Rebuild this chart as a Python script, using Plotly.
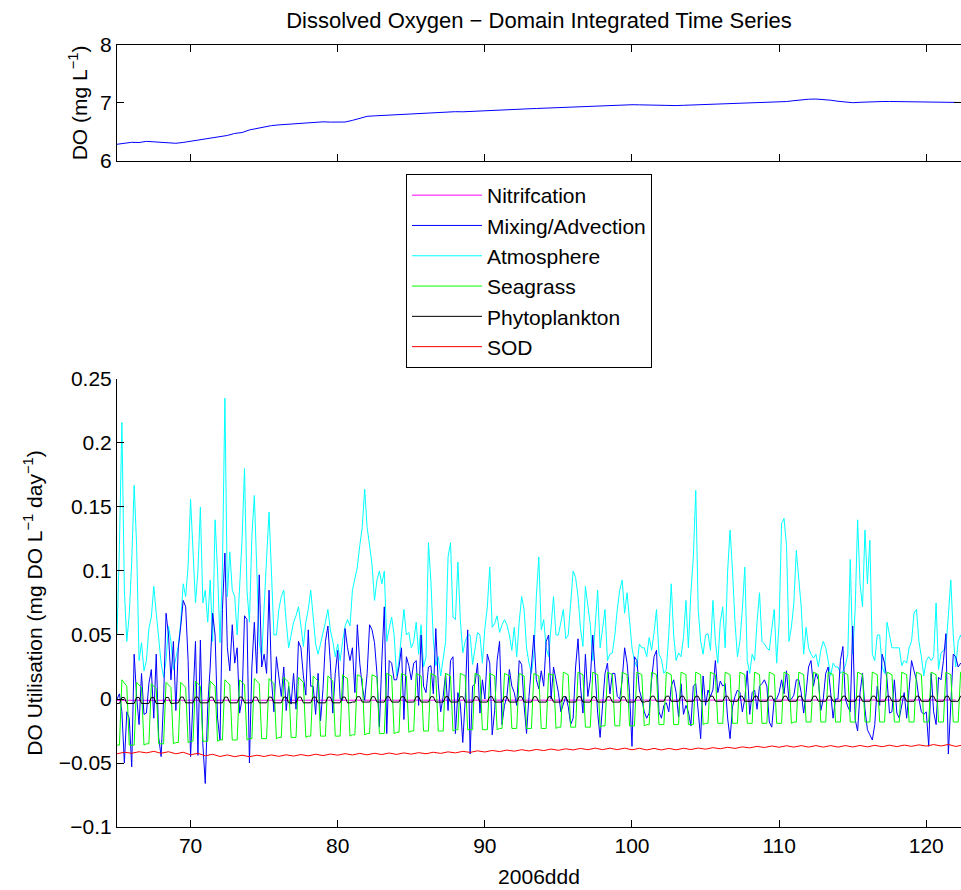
import numpy as np
import plotly.graph_objects as go

START_DAY = 65          # first day-of-year in the record
SAMPLES_PER_DAY = 6     # 4-hourly model output for the flux terms

# ---- Domain integrated DO (mg/L), two samples per day (00h, 12h) ----
do_pairs = [
    [6.288, 6.300], [6.322, 6.318], [6.338, 6.330], [6.322, 6.315], [6.305, 6.320],
    [6.340, 6.355], [6.378, 6.392], [6.425, 6.440], [6.475, 6.490], [6.535, 6.560],
    [6.598, 6.610], [6.622, 6.630], [6.640, 6.645], [6.652, 6.668], [6.675, 6.670],
    [6.665, 6.672], [6.700, 6.740], [6.770, 6.778], [6.785, 6.790], [6.795, 6.800],
    [6.810, 6.815], [6.825, 6.832], [6.840, 6.845], [6.850, 6.848], [6.855, 6.860],
    [6.865, 6.872], [6.880, 6.888], [6.895, 6.898], [6.900, 6.905], [6.910, 6.918],
    [6.925, 6.932], [6.940, 6.943], [6.945, 6.950], [6.955, 6.958], [6.960, 6.966],
    [6.970, 6.968], [6.965, 6.960], [6.955, 6.953], [6.955, 6.960], [6.965, 6.968],
    [6.970, 6.972], [6.975, 6.980], [6.985, 6.990], [6.995, 7.000], [7.005, 7.010],
    [7.015, 7.025], [7.040, 7.055], [7.065, 7.068], [7.060, 7.048], [7.030, 7.015],
    [7.005, 7.012], [7.020, 7.024], [7.025, 7.026], [7.025, 7.022], [7.020, 7.021],
    [7.020, 7.016], [7.010, 7.012], [7.010, 7.008],
]

# ---- Atmosphere (cyan), one row per day, 4-hourly ----
atmosphere_rows = [
    [0.050, 0.120, 0.216, 0.085, 0.045, 0.066],
    [0.107, 0.167, 0.120, 0.030, 0.044, 0.022],
    [0.030, 0.055, 0.064, 0.088, 0.067, 0.050],
    [0.028, 0.017, 0.030, 0.057, 0.045, 0.023],
    [0.033, 0.041, 0.060, 0.090, 0.080, 0.104],
    [0.156, 0.110, 0.075, 0.100, 0.150, 0.075],
    [0.085, 0.060, 0.093, 0.045, 0.140, 0.100],
    [0.044, 0.103, 0.235, 0.080, 0.115, 0.085],
    [0.080, 0.050, 0.090, 0.125, 0.180, 0.085],
    [0.060, 0.127, 0.159, 0.093, 0.044, 0.033],
    [0.075, 0.110, 0.146, 0.090, 0.050, 0.050],
    [0.070, 0.080, 0.085, 0.060, 0.040, 0.050],
    [0.060, 0.065, 0.072, 0.057, 0.041, 0.060],
    [0.070, 0.085, 0.062, 0.043, 0.035, 0.043],
    [0.050, 0.060, 0.070, 0.054, 0.045, 0.033],
    [0.043, 0.030, 0.045, 0.057, 0.062, 0.057],
    [0.085, 0.095, 0.103, 0.120, 0.134, 0.164],
    [0.134, 0.120, 0.105, 0.077, 0.093, 0.100],
    [0.090, 0.100, 0.045, 0.055, 0.064, 0.050],
    [0.018, 0.030, 0.050, 0.070, 0.050, 0.052],
    [0.040, 0.045, 0.060, 0.035, 0.058, 0.025],
    [0.033, 0.122, 0.092, 0.046, 0.026, 0.033],
    [0.018, 0.033, 0.045, 0.111, 0.122, 0.064],
    [0.062, 0.107, 0.062, 0.036, 0.045, 0.050],
    [0.050, 0.027, 0.040, 0.052, 0.050, 0.028],
    [0.055, 0.072, 0.103, 0.056, 0.059, 0.065],
    [0.052, 0.058, 0.062, 0.058, 0.050, 0.038],
    [0.056, 0.033, 0.060, 0.080, 0.070, 0.040],
    [0.028, 0.020, 0.035, 0.080, 0.111, 0.054],
    [0.062, 0.040, 0.033, 0.060, 0.080, 0.050],
    [0.050, 0.060, 0.070, 0.047, 0.050, 0.075],
    [0.100, 0.095, 0.080, 0.055, 0.041, 0.088],
    [0.075, 0.058, 0.030, 0.060, 0.085, 0.040],
    [0.055, 0.070, 0.030, 0.035, 0.036, 0.050],
    [0.070, 0.085, 0.093, 0.067, 0.083, 0.060],
    [0.040, 0.030, 0.025, 0.043, 0.040, 0.040],
    [0.033, 0.048, 0.038, 0.052, 0.070, 0.035],
    [0.031, 0.020, 0.023, 0.050, 0.090, 0.050],
    [0.030, 0.036, 0.033, 0.048, 0.077, 0.040],
    [0.083, 0.110, 0.163, 0.070, 0.045, 0.035],
    [0.050, 0.051, 0.038, 0.077, 0.045, 0.028],
    [0.060, 0.072, 0.040, 0.100, 0.132, 0.100],
    [0.060, 0.033, 0.045, 0.070, 0.103, 0.030],
    [0.020, 0.035, 0.030, 0.060, 0.083, 0.045],
    [0.043, 0.040, 0.038, 0.055, 0.070, 0.028],
    [0.060, 0.137, 0.141, 0.120, 0.045, 0.056],
    [0.075, 0.116, 0.095, 0.072, 0.035, 0.056],
    [0.040, 0.035, 0.032, 0.035, 0.025, 0.038],
    [0.045, 0.040, 0.030, 0.018, 0.028, 0.025],
    [0.025, 0.020, 0.022, 0.026, 0.035, 0.109],
    [0.035, 0.070, 0.140, 0.090, 0.072, 0.132],
    [0.090, 0.124, 0.035, 0.030, 0.050, 0.050],
    [0.025, 0.020, 0.060, 0.050, 0.040, 0.040],
    [0.040, 0.040, 0.026, 0.030, 0.028, 0.040],
    [0.045, 0.067, 0.070, 0.045, 0.033, 0.018],
    [0.030, 0.033, 0.030, 0.033, 0.075, 0.023],
    [0.036, 0.038, 0.040, 0.065, 0.093, 0.050],
    [0.025, 0.045, 0.050, 0.045],
]

# ---- Mixing / Advection (blue) ----
mixing_rows = [
    [0.000, 0.004, -0.010, -0.050, -0.010, -0.015],
    [-0.053, 0.035, 0.002, -0.020, 0.020, -0.012],
    [-0.011, 0.012, 0.023, -0.015, 0.035, -0.030],
    [-0.045, 0.000, 0.067, 0.050, 0.015, 0.045],
    [-0.009, 0.040, 0.057, 0.077, 0.072, 0.030],
    [-0.045, -0.006, 0.045, -0.044, 0.046, -0.035],
    [-0.066, -0.005, 0.025, 0.067, 0.050, -0.015],
    [-0.032, 0.070, 0.114, 0.040, 0.022, 0.058],
    [0.028, 0.040, -0.011, 0.000, 0.065, 0.062],
    [-0.050, 0.025, 0.060, 0.020, 0.097, 0.025],
    [0.035, 0.020, 0.085, 0.015, -0.010, 0.033],
    [0.015, 0.002, 0.025, -0.009, 0.010, -0.004],
    [0.020, -0.008, 0.045, 0.040, 0.018, 0.003],
    [0.054, 0.010, 0.010, -0.012, 0.020, -0.017],
    [0.008, 0.045, 0.057, 0.028, -0.011, 0.020],
    [0.038, 0.000, -0.001, 0.055, 0.040, 0.030],
    [0.040, 0.005, 0.058, 0.028, 0.010, -0.001],
    [0.020, 0.058, 0.054, 0.044, 0.020, -0.022],
    [0.030, 0.072, -0.027, 0.030, 0.028, 0.015],
    [0.015, 0.025, 0.040, -0.016, 0.033, 0.026],
    [0.015, 0.028, 0.030, -0.005, 0.050, 0.010],
    [0.005, 0.025, 0.026, 0.004, 0.055, 0.012],
    [-0.010, 0.002, 0.020, -0.009, 0.030, 0.033],
    [-0.027, 0.005, -0.004, -0.034, 0.000, 0.054],
    [-0.043, 0.010, 0.012, 0.028, -0.011, 0.015],
    [0.000, 0.035, 0.028, -0.028, -0.009, 0.030],
    [0.045, -0.020, -0.005, 0.002, 0.023, 0.010],
    [0.005, -0.005, 0.030, 0.027, -0.005, -0.027],
    [0.002, 0.023, 0.050, 0.015, 0.008, 0.022],
    [0.010, 0.045, 0.050, 0.000, 0.025, 0.015],
    [0.005, -0.010, -0.003, 0.002, -0.006, -0.020],
    [-0.015, 0.025, 0.047, 0.010, -0.011, 0.035],
    [0.002, 0.015, 0.050, 0.020, -0.011, -0.030],
    [-0.008, 0.020, 0.028, 0.004, 0.020, 0.020],
    [0.002, 0.000, 0.015, 0.040, 0.028, 0.005],
    [-0.037, 0.033, 0.030, 0.007, 0.000, -0.010],
    [-0.015, -0.011, 0.015, 0.033, 0.038, -0.010],
    [-0.015, -0.005, -0.003, -0.010, 0.010, 0.015],
    [0.005, -0.014, 0.012, -0.012, -0.005, -0.010],
    [-0.021, 0.010, 0.012, -0.010, -0.031, 0.018],
    [-0.005, 0.007, 0.002, 0.007, 0.030, 0.005],
    [0.014, 0.010, 0.012, -0.015, -0.031, -0.006],
    [0.002, 0.007, 0.005, -0.010, 0.000, 0.022],
    [-0.012, 0.005, 0.007, -0.008, 0.010, 0.012],
    [0.015, 0.010, -0.018, -0.022, 0.000, 0.000],
    [0.005, 0.015, 0.004, 0.022, -0.001, 0.000],
    [0.003, 0.015, 0.015, 0.005, -0.011, 0.005],
    [0.025, 0.030, 0.010, 0.020, 0.015, -0.009],
    [0.000, 0.020, 0.025, 0.005, -0.015, 0.000],
    [0.000, 0.030, 0.041, 0.000, -0.006, -0.010],
    [0.057, -0.016, -0.025, 0.005, 0.020, -0.008],
    [-0.024, -0.028, -0.032, -0.020, 0.010, -0.005],
    [0.035, 0.028, 0.015, -0.011, -0.010, 0.015],
    [-0.011, -0.015, -0.005, 0.005, -0.015, 0.010],
    [0.030, 0.022, 0.015, 0.000, -0.010, -0.012],
    [-0.010, -0.037, 0.020, -0.010, -0.020, 0.017],
    [0.015, 0.030, 0.051, -0.043, 0.000, 0.035],
    [0.033, 0.025, 0.028, 0.025],
]

# ---- Seagrass (green) ----
seagrass_rows = [
    [-0.036, -0.036, 0.015, 0.012, 0.010, -0.036],
    [-0.036, -0.036, 0.013, 0.011, 0.009, -0.036],
    [-0.035, -0.035, 0.012, 0.010, 0.008, -0.035],
    [-0.035, -0.035, 0.013, 0.011, 0.009, -0.035],
    [-0.034, -0.034, 0.013, 0.011, 0.009, -0.034],
    [-0.033, -0.033, 0.014, 0.012, 0.010, -0.033],
    [-0.033, -0.033, 0.014, 0.012, 0.010, -0.033],
    [-0.032, -0.032, 0.015, 0.013, 0.011, -0.032],
    [-0.032, -0.032, 0.015, 0.013, 0.011, -0.032],
    [-0.031, -0.031, 0.016, 0.014, 0.012, -0.031],
    [-0.031, -0.031, 0.016, 0.014, 0.012, -0.031],
    [-0.030, -0.030, 0.017, 0.015, 0.013, -0.030],
    [-0.030, -0.030, 0.017, 0.015, 0.013, -0.030],
    [-0.029, -0.029, 0.018, 0.016, 0.014, -0.029],
    [-0.029, -0.029, 0.018, 0.016, 0.014, -0.029],
    [-0.029, -0.029, 0.019, 0.017, 0.016, -0.029],
    [-0.028, -0.028, 0.019, 0.018, 0.016, -0.028],
    [-0.027, -0.027, 0.019, 0.018, 0.017, -0.027],
    [-0.027, -0.027, 0.020, 0.019, 0.018, -0.027],
    [-0.026, -0.026, 0.020, 0.019, 0.018, -0.026],
    [-0.025, -0.025, 0.020, 0.019, 0.018, -0.025],
    [-0.025, -0.025, 0.020, 0.019, 0.018, -0.025],
    [-0.025, -0.025, 0.020, 0.019, 0.018, -0.025],
    [-0.024, -0.024, 0.020, 0.019, 0.018, -0.024],
    [-0.024, -0.024, 0.020, 0.019, 0.018, -0.024],
    [-0.024, -0.024, 0.020, 0.019, 0.018, -0.024],
    [-0.023, -0.023, 0.020, 0.019, 0.018, -0.023],
    [-0.023, -0.023, 0.020, 0.019, 0.018, -0.023],
    [-0.023, -0.023, 0.020, 0.019, 0.018, -0.023],
    [-0.023, -0.023, 0.020, 0.019, 0.019, -0.023],
    [-0.022, -0.022, 0.021, 0.020, 0.019, -0.022],
    [-0.022, -0.022, 0.021, 0.020, 0.019, -0.022],
    [-0.022, -0.022, 0.021, 0.020, 0.019, -0.022],
    [-0.021, -0.021, 0.021, 0.020, 0.019, -0.021],
    [-0.021, -0.021, 0.021, 0.020, 0.019, -0.021],
    [-0.021, -0.021, 0.021, 0.020, 0.019, -0.021],
    [-0.020, -0.020, 0.021, 0.020, 0.019, -0.020],
    [-0.020, -0.020, 0.021, 0.020, 0.019, -0.020],
    [-0.020, -0.020, 0.021, 0.020, 0.019, -0.020],
    [-0.020, -0.020, 0.021, 0.020, 0.019, -0.020],
    [-0.019, -0.019, 0.021, 0.020, 0.019, -0.019],
    [-0.019, -0.019, 0.021, 0.020, 0.019, -0.019],
    [-0.019, -0.019, 0.021, 0.020, 0.019, -0.019],
    [-0.019, -0.019, 0.021, 0.020, 0.019, -0.019],
    [-0.019, -0.019, 0.021, 0.020, 0.019, -0.019],
    [-0.019, -0.019, 0.021, 0.020, 0.019, -0.019],
    [-0.018, -0.018, 0.021, 0.020, 0.019, -0.018],
    [-0.018, -0.018, 0.021, 0.020, 0.019, -0.018],
    [-0.018, -0.018, 0.021, 0.020, 0.019, -0.018],
    [-0.018, -0.018, 0.021, 0.020, 0.019, -0.018],
    [-0.018, -0.018, 0.021, 0.020, 0.019, -0.018],
    [-0.018, -0.018, 0.021, 0.020, 0.019, -0.018],
    [-0.018, -0.018, 0.021, 0.020, 0.019, -0.018],
    [-0.018, -0.018, 0.021, 0.020, 0.019, -0.018],
    [-0.018, -0.018, 0.021, 0.020, 0.019, -0.018],
    [-0.018, -0.018, 0.021, 0.020, 0.019, -0.018],
    [-0.018, -0.018, 0.021, 0.020, 0.019, -0.018],
    [-0.018, -0.018, 0.021, 0.020],
]

# ---- Phytoplankton (black) ----
phyto_rows = (
    [[-0.0035, -0.0035, 0.0012, 0.0012, -0.0035, -0.0035]] * 4
    + [[-0.0030, -0.0030, 0.0015, 0.0015, -0.0030, -0.0030]] * 12
    + [[-0.0024, -0.0024, 0.0018, 0.0018, -0.0024, -0.0024]] * 20
    + [[-0.0018, -0.0018, 0.0022, 0.0022, -0.0018, -0.0018]] * 21
    + [[-0.0018, -0.0018, 0.0022, 0.0022]]
)

# ---- SOD (red), two samples per day ----
sod_pairs = [
    [-0.0428, -0.0416], [-0.0424, -0.0412], [-0.0421, -0.0409], [-0.0424, -0.0412],
    [-0.0428, -0.0416], [-0.0436, -0.0424], [-0.0444, -0.0432], [-0.0449, -0.0437],
    [-0.0451, -0.0439], [-0.0451, -0.0439], [-0.0449, -0.0437], [-0.0448, -0.0436],
    [-0.0446, -0.0434], [-0.0444, -0.0432], [-0.0442, -0.0430], [-0.0439, -0.0427],
    [-0.0437, -0.0425], [-0.0436, -0.0424], [-0.0434, -0.0422], [-0.0433, -0.0421],
    [-0.0431, -0.0419], [-0.0428, -0.0416], [-0.0425, -0.0413], [-0.0421, -0.0409],
    [-0.0417, -0.0405], [-0.0414, -0.0402], [-0.0411, -0.0399], [-0.0408, -0.0396],
    [-0.0406, -0.0394], [-0.0403, -0.0391], [-0.0401, -0.0389], [-0.0398, -0.0386],
    [-0.0396, -0.0384], [-0.0396, -0.0384], [-0.0396, -0.0384], [-0.0397, -0.0385],
    [-0.0398, -0.0386], [-0.0398, -0.0386], [-0.0397, -0.0385], [-0.0395, -0.0383],
    [-0.0392, -0.0380], [-0.0389, -0.0377], [-0.0386, -0.0374], [-0.0382, -0.0370],
    [-0.0379, -0.0367], [-0.0377, -0.0365], [-0.0376, -0.0364], [-0.0376, -0.0364],
    [-0.0376, -0.0364], [-0.0376, -0.0364], [-0.0375, -0.0363], [-0.0374, -0.0362],
    [-0.0373, -0.0361], [-0.0372, -0.0360], [-0.0370, -0.0358], [-0.0368, -0.0356],
    [-0.0367, -0.0355], [-0.0371, -0.0359],
]

# ---- Nitrification (magenta), daily ----
nitrification_daily = [
    -0.0010, -0.0010, -0.0010, -0.0010, -0.0010, -0.0009, -0.0009, -0.0009, -0.0009, -0.0009,
    -0.0009, -0.0009, -0.0009, -0.0009, -0.0009, -0.0009, -0.0008, -0.0008, -0.0008, -0.0008,
    -0.0008, -0.0008, -0.0008, -0.0008, -0.0008, -0.0008, -0.0008, -0.0008, -0.0008, -0.0008,
    -0.0008, -0.0008, -0.0008, -0.0008, -0.0008, -0.0008, -0.0008, -0.0008, -0.0008, -0.0008,
    -0.0008, -0.0008, -0.0008, -0.0008, -0.0008, -0.0008, -0.0008, -0.0008, -0.0008, -0.0008,
    -0.0008, -0.0008, -0.0008, -0.0008, -0.0008, -0.0008, -0.0008, -0.0008,
]

X_RANGE = [65, 122.36]


def flat(rows):
    return [v for r in rows for v in r]


atm = flat(atmosphere_rows)
mix = flat(mixing_rows)
sg = flat(seagrass_rows)
phy = flat(phyto_rows)
sod = flat(sod_pairs)
do = flat(do_pairs)

t6 = START_DAY + np.arange(len(atm)) / SAMPLES_PER_DAY
t2 = START_DAY + np.arange(len(sod)) / 2
t2do = START_DAY + np.arange(len(do)) / 2
t1 = START_DAY + np.arange(len(nitrification_daily))

FONT = "Liberation Sans, Arial, Helvetica, sans-serif"

fig = go.Figure()

fig.add_trace(go.Scatter(x=t2do, y=do, mode="lines", line=dict(color="#0000ff", width=1),
                         showlegend=False, xaxis="x", yaxis="y"))

# bottom panel: draw order vs legend order
series = [
    ("Nitrifcation", t1, nitrification_daily, "#ff00ff", 1),
    ("Atmosphere", t6, atm, "#00ffff", 3),
    ("Mixing/Advection", t6, mix, "#0000ff", 2),
    ("Seagrass", t6, sg, "#00ff00", 4),
    ("Phytoplankton", t6, phy, "#000000", 5),
    ("SOD", t2, sod, "#ff0000", 6),
]
for name, xx, yy, col, rank in series:
    fig.add_trace(go.Scatter(x=xx, y=yy, mode="lines", name=name,
                             line=dict(color=col, width=1), legendrank=rank,
                             xaxis="x2", yaxis="y2"))

axis_common = dict(showline=True, linecolor="black", linewidth=1, ticks="inside",
                   ticklen=7, tickcolor="black", tickwidth=1, showgrid=False,
                   zeroline=False, tickfont=dict(family=FONT, size=21, color="black"))

fig.update_layout(
    width=961, height=890,
    margin=dict(l=117, r=0, t=45, b=63),
    paper_bgcolor="white", plot_bgcolor="white",
    font=dict(family=FONT, size=21, color="black"),
    title=dict(text="Dissolved Oxygen − Domain Integrated Time Series",
               x=(539 - 117) / 844, xref="paper", xanchor="center",
               y=1 - 20 / 890, yanchor="middle",
               font=dict(family=FONT, size=22, color="black")),
    xaxis=dict(domain=[0, 1], anchor="y", range=X_RANGE, tickvals=[70, 80, 90, 100, 110, 120],
               showticklabels=False, mirror="ticks", **axis_common),
    yaxis=dict(domain=[0.8517, 1.0], anchor="x", range=[6, 8], tickvals=[6, 7, 8],
               mirror="ticks",
               title=dict(text="DO (mg L<sup>−1</sup>)", standoff=6,
                          font=dict(family=FONT, size=21, color="black")),
               **axis_common),
    xaxis2=dict(domain=[0, 1], anchor="y2", range=X_RANGE,
                tickvals=[70, 80, 90, 100, 110, 120],
                title=dict(text="2006ddd", standoff=13,
                           font=dict(family=FONT, size=21, color="black")),
                **axis_common),
    yaxis2=dict(domain=[0, 0.5729], anchor="x2", range=[-0.1, 0.25], dtick=0.05, tick0=0,
                title=dict(text="DO Utilisation (mg DO L<sup>−1</sup> day<sup>−1</sup>)",
                           standoff=10, font=dict(family=FONT, size=21, color="black")),
                **axis_common),
    legend=dict(x=(406 - 117) / 844, y=(827 - 174) / 782, xanchor="left", yanchor="top",
                bordercolor="black", borderwidth=1, bgcolor="white",
                font=dict(family=FONT, size=21, color="black"),
                itemwidth=70, entrywidth=190, entrywidthmode="pixels", tracegroupgap=0),
)

fig.write_html("out.html")
